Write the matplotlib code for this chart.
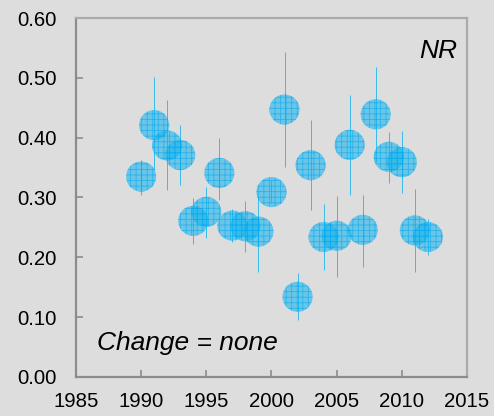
import matplotlib
matplotlib.use('Agg')
import matplotlib.pyplot as plt
import numpy as np

years = [1990, 1991, 1992, 1993, 1994, 1995, 1996, 1997, 1998, 1999, 2000,
         2001, 2002, 2003, 2004, 2005, 2006, 2007, 2008, 2009, 2010, 2011, 2012]
values = [0.335, 0.421, 0.387, 0.371, 0.261, 0.276, 0.341, 0.253, 0.252, 0.243, 0.309,
          0.447, 0.134, 0.354, 0.234, 0.236, 0.388, 0.246, 0.439, 0.368, 0.359, 0.245, 0.234]
upper = [0.363, 0.502, 0.463, 0.421, 0.299, 0.318, 0.400, 0.281, 0.294, 0.301, 0.330,
         0.544, 0.174, 0.430, 0.289, 0.302, 0.471, 0.304, 0.518, 0.410, 0.411, 0.314, 0.264]
lower = [0.304, 0.346, 0.312, 0.321, 0.222, 0.233, 0.296, 0.226, 0.209, 0.176, 0.290,
         0.351, 0.095, 0.279, 0.178, 0.167, 0.305, 0.184, 0.360, 0.325, 0.308, 0.176, 0.204]
xticks = [1985, 1990, 1995, 2000, 2005, 2010, 2015]
yticks = [0.0, 0.1, 0.2, 0.3, 0.4, 0.5, 0.6]

plt.rcParams['font.family'] = ['Liberation Sans', 'DejaVu Sans']
plt.rcParams['hatch.linewidth'] = 0.6

bg = '#dddddd'
blue = '#00b0f0'
grey = '#8c8c8c'

fig = plt.figure(figsize=(4.94, 4.16), dpi=100, facecolor=bg)
ax = fig.add_axes([0.1538, 0.0938, 0.7915, 0.8629], facecolor=bg)

vals = np.array(values)
yerr = [vals - np.array(lower), np.array(upper) - vals]
ax.errorbar(years, values, yerr=yerr, fmt='none', ecolor=blue, elinewidth=0.7,
            alpha=0.75, capsize=0, zorder=2)
ax.scatter(years, values, s=470, facecolor=(0.05, 0.70, 0.94, 0.55),
           edgecolor=(0.0, 0.65, 0.93, 0.6), linewidth=0, hatch='+++', zorder=3)

ax.set_xlim(1985, 2015)
ax.set_ylim(0, 0.6)
ax.set_xticks(xticks)
ax.set_yticks(yticks)
ax.set_yticklabels(['%.2f' % v for v in yticks])
ax.tick_params(axis='both', direction='in', length=5, width=1.2, color=grey,
               labelsize=14.7, labelcolor='black')
ax.tick_params(axis='y', pad=14)
ax.tick_params(axis='x', pad=11)
for s in ax.spines.values():
    s.set_color(grey)
    s.set_linewidth(1.6)
ax.spines['top'].set_color('#aaaaaa')
ax.spines['right'].set_color('#aaaaaa')

ax.text(0.974, 0.889, 'NR', transform=ax.transAxes, ha='right', va='baseline',
        fontsize=19, style='italic')
ax.text(0.054, 0.075, 'Change = none', transform=ax.transAxes, ha='left',
        va='baseline', fontsize=19, style='italic')

fig.savefig('out.png', dpi=100, facecolor=bg)
